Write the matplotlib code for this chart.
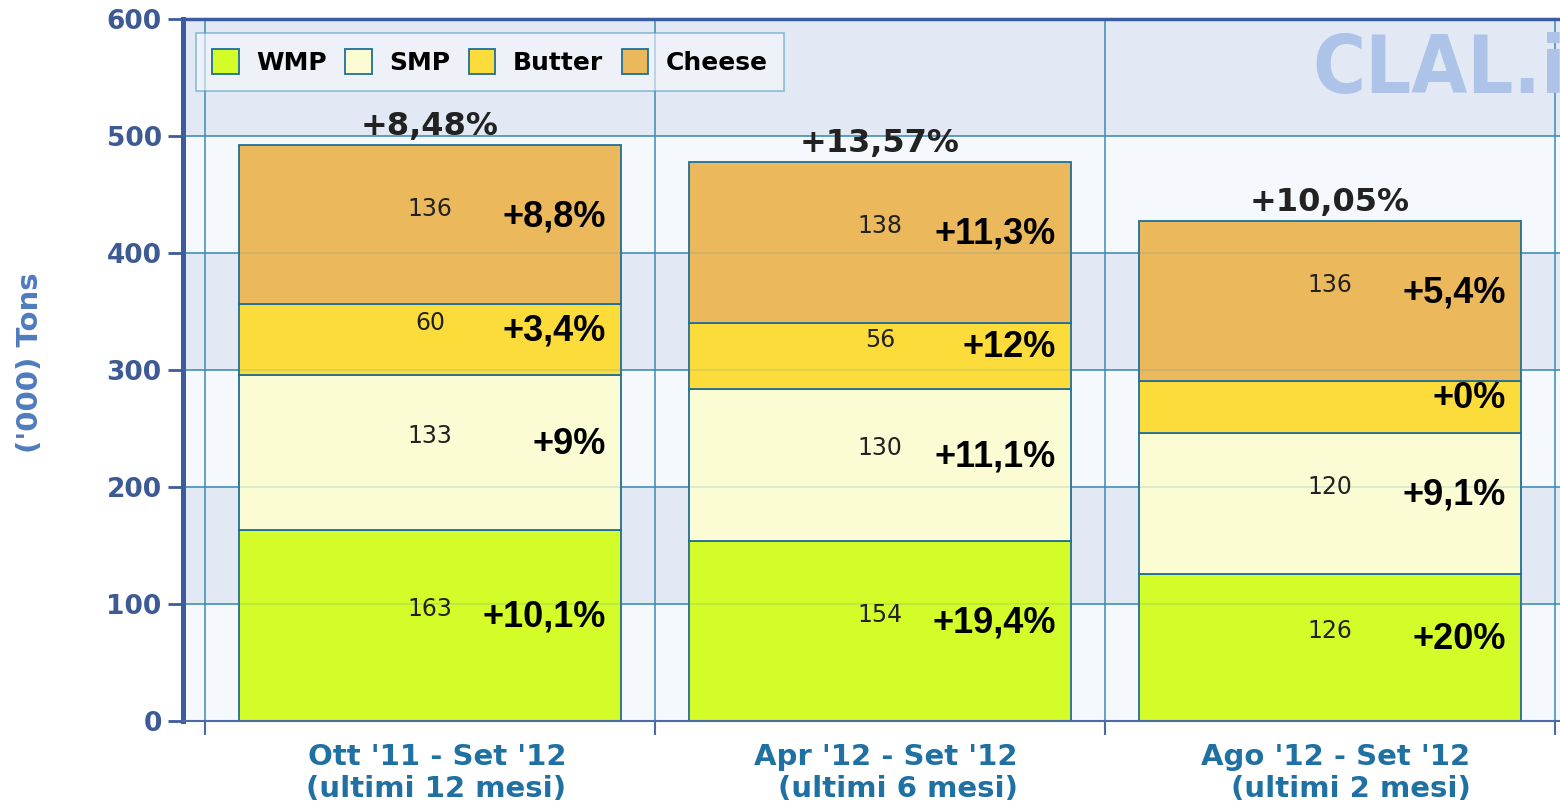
#CLAL - export lattiero-caseari: volumi per prodotto e variazioni %
import matplotlib
matplotlib.use('Agg')
from matplotlib import pyplot as plt
from matplotlib import transforms
import numpy as np

#dati ('000 tonnellate)
periodi = ["Ott '11 - Set '12\n(ultimi 12 mesi)",
           "Apr '12 - Set '12\n(ultimi 6 mesi)",
           "Ago '12 - Set '12\n(ultimi 2 mesi)"]
prodotti = ['WMP', 'SMP', 'Butter', 'Cheese']
wmp = [163, 154, 126]
smp = [133, 130, 120]
butter = [60, 56, 45]
cheese = [136, 138, 136]
#variazioni % per prodotto e sul totale
var_wmp = ['+10,1%', '+19,4%', '+20%']
var_smp = ['+9%', '+11,1%', '+9,1%']
var_butter = ['+3,4%', '+12%', '+0%']
var_cheese = ['+8,8%', '+11,3%', '+5,4%']
var_totale = ['+8,48%', '+13,57%', '+10,05%']
yticks = [0, 100, 200, 300, 400, 500, 600]

colori = ['#d4fc28', '#fbfbd4', '#fcdc3a', '#ebb85c']
bordo = '#1f6f96'
griglia = '#3d8cb5'
blu_assi = '#3c5c9e'

fig = plt.figure(figsize=(15.6, 8.09), dpi=100)
ax = fig.add_axes([182.5/1560, 88/809, 1377.5/1560, 702/809])

x = np.arange(len(periodi))
confini = np.arange(-0.5, len(periodi)+0.5, 1.0)

#fasce di sfondo alternate
for k in range(len(yticks)-1):
    ax.axhspan(yticks[k], yticks[k+1], color='#e2e9f4' if k % 2 else '#f5f8fc', lw=0, zorder=0)
for y in yticks[1:-1]:
    ax.axhline(y, color=griglia, lw=1.1, zorder=1)
    ax.axhline(y, color=griglia, lw=1.1, alpha=0.2, zorder=3)  #si vede anche sopra le barre
for c in confini:
    ax.axvline(c, color=griglia, lw=1.1, zorder=1)

#watermark (tagliato dal bordo come nell'originale)
ax.text(0.82, 0.8946, 'CLAL.it', transform=ax.transAxes, fontsize=58, fontweight='bold',
        fontstretch='condensed', color='#aec3e8', ha='left', va='baseline', zorder=1, clip_on=True)

serie = [wmp, smp, butter, cheese]
variazioni = [var_wmp, var_smp, var_butter, var_cheese]
base = np.zeros(len(periodi))
for nome, val, col, var in zip(prodotti, serie, colori, variazioni):
    ax.bar(x, val, 0.85, bottom=base, color=col, edgecolor=bordo, linewidth=1.3, label=nome, zorder=2)
    for i in range(len(x)):
        mid = base[i] + val[i]/2
        if val[i] >= 50:  #il valore non compare nei segmenti piccoli
            ax.text(x[i], mid+14, str(val[i]), ha='center', va='center', fontsize=17,
                    color='#222222', zorder=4)
        ax.text(x[i]+0.39, mid+7, var[i], ha='right', va='center', fontsize=26,
                fontweight='bold', family='Liberation Sans', color='black', zorder=4)
    base += np.array(val)

for i in range(len(x)):
    ax.text(x[i], base[i]+16, var_totale[i], ha='center', va='center', fontsize=23,
            fontweight='bold', color='#222222', zorder=4)

ax.set_xlim(-0.55, 2.511)
ax.set_ylim(0, 600)

#assi
ax.set_yticks(yticks)
ax.tick_params(axis='y', length=11, width=2, color=blu_assi, labelsize=19, labelcolor='#3d5a94', pad=4)
for lbl in ax.get_yticklabels():
    lbl.set_fontweight('bold')
ax.set_xticks(confini)
ax.set_xticklabels([])
ax.tick_params(axis='x', which='major', length=10, width=1.5, color='#4a6aa8')
ax.set_xticks(x, minor=True)
ax.set_xticklabels(periodi, minor=True, fontsize=21, fontweight='bold', color='#1f70a3',
                   linespacing=1.15, multialignment='right')
ax.tick_params(axis='x', which='minor', length=0, pad=16)
spost = transforms.ScaledTranslation(6/100, 0, fig.dpi_scale_trans)
for lbl in ax.get_xticklabels(minor=True):
    lbl.set_transform(lbl.get_transform() + spost)

ax.spines['left'].set_linewidth(3.6)
ax.spines['left'].set_color(blu_assi)
ax.spines['top'].set_linewidth(2.5)
ax.spines['top'].set_color(blu_assi)
ax.spines['bottom'].set_linewidth(1.5)
ax.spines['bottom'].set_color('#4a6aa8')
ax.spines['right'].set_visible(False)

fig.text(30/1560, 1-363/809, "('000) Tons", rotation=90, ha='center', va='center',
         fontsize=21, fontweight='bold', color='#4f7bbd')

leg = ax.legend(loc='upper left', bbox_to_anchor=((196-182.5)/1377.5, (721-33)/702), ncol=4,
                prop={'size': 18, 'weight': 'bold'}, frameon=True, fancybox=False,
                edgecolor='#4a9cc0', facecolor='#f7f9fc', framealpha=0.6,
                handlelength=1.05, handleheight=1.15, handletextpad=0.7, columnspacing=0.75,
                borderpad=0.65, borderaxespad=0)
leg.get_frame().set_linewidth(1.2)
leg.set_zorder(5)

plt.savefig('out.png', dpi=100)
